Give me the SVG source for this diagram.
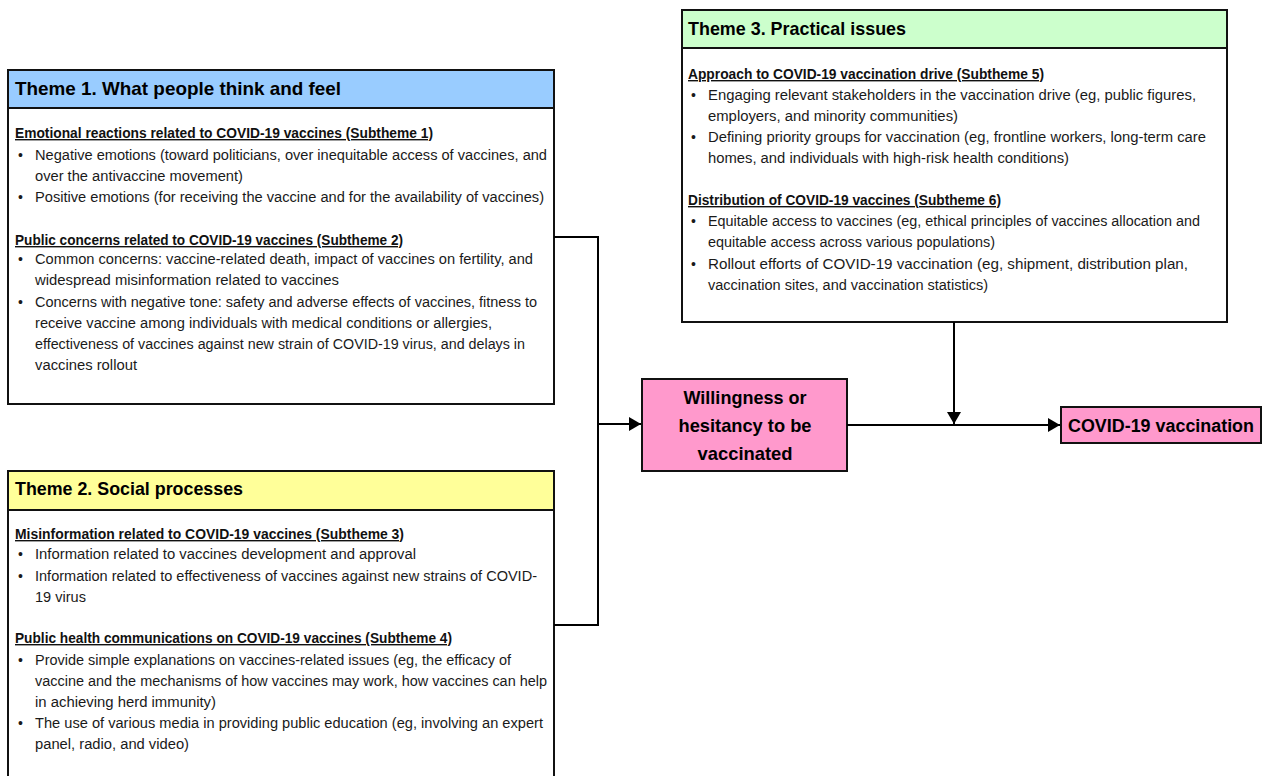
<svg xmlns="http://www.w3.org/2000/svg" width="1263" height="776" viewBox="0 0 1263 776">
<style>
.box{fill:#fff;stroke:#111;stroke-width:2}
.hdr{stroke:#111;stroke-width:2}
.h{font-family:"Liberation Sans",Arial,sans-serif;font-weight:bold;font-size:18.5px;fill:#000}
.st{font-family:"Liberation Sans",Arial,sans-serif;font-weight:bold;font-size:14px;fill:#111;text-decoration:underline}
.t{font-family:"Liberation Sans",Arial,sans-serif;font-size:14px;fill:#1a1a1a}
.c{font-family:"Liberation Sans",Arial,sans-serif;font-weight:bold;font-size:19px;fill:#000;text-anchor:middle}
.ln{fill:none;stroke:#000;stroke-width:2}
</style>
<defs>
<marker id="arr" markerWidth="12" markerHeight="14" refX="12" refY="7" orient="auto" markerUnits="userSpaceOnUse" viewBox="0 0 12 14">
<path d="M0,0 L12,7 L0,14 Z" fill="#000"/>
</marker>
</defs>
<rect width="1263" height="776" fill="#fff"/>

<g id="theme1">
<rect class="box" x="8" y="70" width="546" height="334"/>
<rect class="hdr" x="8" y="70" width="546" height="38" fill="#99ccff"/>
<text class="h" x="15" y="95" textLength="326" lengthAdjust="spacingAndGlyphs">Theme 1. What people think and feel</text>
<text class="st" x="15" y="138" textLength="418" lengthAdjust="spacingAndGlyphs">Emotional reactions related to COVID-19 vaccines (Subtheme 1)</text>
<text class="t" x="18" y="160">•</text>
<text class="t" x="35" y="160" textLength="512" lengthAdjust="spacingAndGlyphs">Negative emotions (toward politicians, over inequitable access of vaccines, and</text>
<text class="t" x="35" y="181" textLength="208" lengthAdjust="spacingAndGlyphs">over the antivaccine movement)</text>
<text class="t" x="18" y="202">•</text>
<text class="t" x="35" y="202" textLength="509" lengthAdjust="spacingAndGlyphs">Positive emotions (for receiving the vaccine and for the availability of vaccines)</text>
<text class="st" x="15" y="245" textLength="388" lengthAdjust="spacingAndGlyphs">Public concerns related to COVID-19 vaccines (Subtheme 2)</text>
<text class="t" x="18" y="264">•</text>
<text class="t" x="35" y="264" textLength="498" lengthAdjust="spacingAndGlyphs">Common concerns: vaccine-related death, impact of vaccines on fertility, and</text>
<text class="t" x="35" y="285" textLength="304" lengthAdjust="spacingAndGlyphs">widespread misinformation related to vaccines</text>
<text class="t" x="18" y="307">•</text>
<text class="t" x="35" y="307" textLength="502" lengthAdjust="spacingAndGlyphs">Concerns with negative tone: safety and adverse effects of vaccines, fitness to</text>
<text class="t" x="35" y="328" textLength="457" lengthAdjust="spacingAndGlyphs">receive vaccine among individuals with medical conditions or allergies,</text>
<text class="t" x="35" y="349" textLength="490" lengthAdjust="spacingAndGlyphs">effectiveness of vaccines against new strain of COVID-19 virus, and delays in</text>
<text class="t" x="35" y="370" textLength="102" lengthAdjust="spacingAndGlyphs">vaccines rollout</text>
</g>

<g id="theme2">
<rect class="box" x="8" y="471" width="546" height="320"/>
<rect class="hdr" x="8" y="471" width="546" height="39" fill="#ffff99"/>
<text class="h" x="15" y="495" textLength="228" lengthAdjust="spacingAndGlyphs">Theme 2. Social processes</text>
<text class="st" x="15" y="539" textLength="389" lengthAdjust="spacingAndGlyphs">Misinformation related to COVID-19 vaccines (Subtheme 3)</text>
<text class="t" x="18" y="559">•</text>
<text class="t" x="35" y="559" textLength="381" lengthAdjust="spacingAndGlyphs">Information related to vaccines development and approval</text>
<text class="t" x="18" y="581">•</text>
<text class="t" x="35" y="581" textLength="502" lengthAdjust="spacingAndGlyphs">Information related to effectiveness of vaccines against new strains of COVID-</text>
<text class="t" x="35" y="602" textLength="51" lengthAdjust="spacingAndGlyphs">19 virus</text>
<text class="st" x="15" y="643" textLength="437" lengthAdjust="spacingAndGlyphs">Public health communications on COVID-19 vaccines (Subtheme 4)</text>
<text class="t" x="18" y="665">•</text>
<text class="t" x="35" y="665" textLength="476" lengthAdjust="spacingAndGlyphs">Provide simple explanations on vaccines-related issues (eg, the efficacy of</text>
<text class="t" x="35" y="686" textLength="512" lengthAdjust="spacingAndGlyphs">vaccine and the mechanisms of how vaccines may work, how vaccines can help</text>
<text class="t" x="35" y="707" textLength="181" lengthAdjust="spacingAndGlyphs">in achieving herd immunity)</text>
<text class="t" x="18" y="728">•</text>
<text class="t" x="35" y="728" textLength="508" lengthAdjust="spacingAndGlyphs">The use of various media in providing public education (eg, involving an expert</text>
<text class="t" x="35" y="749" textLength="154" lengthAdjust="spacingAndGlyphs">panel, radio, and video)</text>
</g>

<g id="theme3">
<rect class="box" x="682" y="10" width="545" height="312"/>
<rect class="hdr" x="682" y="10" width="545" height="38" fill="#ccffcc"/>
<text class="h" x="688" y="35" textLength="218" lengthAdjust="spacingAndGlyphs">Theme 3. Practical issues</text>
<text class="st" x="688" y="79" textLength="356" lengthAdjust="spacingAndGlyphs">Approach to COVID-19 vaccination drive (Subtheme 5)</text>
<text class="t" x="691" y="100">•</text>
<text class="t" x="708" y="100" textLength="488" lengthAdjust="spacingAndGlyphs">Engaging relevant stakeholders in the vaccination drive (eg, public figures,</text>
<text class="t" x="708" y="121" textLength="250" lengthAdjust="spacingAndGlyphs">employers, and minority communities)</text>
<text class="t" x="691" y="142">•</text>
<text class="t" x="708" y="142" textLength="498" lengthAdjust="spacingAndGlyphs">Defining priority groups for vaccination (eg, frontline workers, long-term care</text>
<text class="t" x="708" y="163" textLength="361" lengthAdjust="spacingAndGlyphs">homes, and individuals with high-risk health conditions)</text>
<text class="st" x="688" y="205" textLength="313" lengthAdjust="spacingAndGlyphs">Distribution of COVID-19 vaccines (Subtheme 6)</text>
<text class="t" x="691" y="226">•</text>
<text class="t" x="708" y="226" textLength="492" lengthAdjust="spacingAndGlyphs">Equitable access to vaccines (eg, ethical principles of vaccines allocation and</text>
<text class="t" x="708" y="247" textLength="287" lengthAdjust="spacingAndGlyphs">equitable access across various populations)</text>
<text class="t" x="691" y="269">•</text>
<text class="t" x="708" y="269" textLength="480" lengthAdjust="spacingAndGlyphs">Rollout efforts of COVID-19 vaccination (eg, shipment, distribution plan,</text>
<text class="t" x="708" y="290" textLength="280" lengthAdjust="spacingAndGlyphs">vaccination sites, and vaccination statistics)</text>
</g>

<g id="willingness">
<rect x="642" y="379" width="205" height="92" fill="#ff99cc" stroke="#111" stroke-width="2"/>
<text class="c" x="745" y="404" textLength="123" lengthAdjust="spacingAndGlyphs">Willingness or</text>
<text class="c" x="745" y="432" textLength="133" lengthAdjust="spacingAndGlyphs">hesitancy to be</text>
<text class="c" x="745" y="460" textLength="95" lengthAdjust="spacingAndGlyphs">vaccinated</text>
</g>

<g id="vaccination">
<rect x="1061" y="407" width="200" height="36" fill="#ff99cc" stroke="#111" stroke-width="2"/>
<text class="c" x="1161" y="432" style="font-size:17.5px" textLength="186" lengthAdjust="spacingAndGlyphs">COVID-19 vaccination</text>
</g>

<g id="connectors">
<polyline class="ln" points="554,237 598,237 598,625 554,625"/>
<line class="ln" x1="598" y1="424" x2="641" y2="424" marker-end="url(#arr)"/>
<line class="ln" x1="847" y1="425" x2="1060" y2="425" marker-end="url(#arr)"/>
<line class="ln" x1="954" y1="322" x2="954" y2="424" marker-end="url(#arr)"/>
</g>
</svg>
